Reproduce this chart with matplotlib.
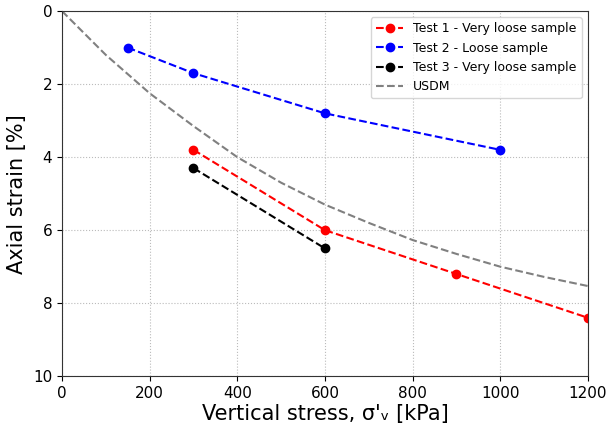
import matplotlib
matplotlib.use("Agg")
import matplotlib.pyplot as plt

# test data
t1_x = [300, 600, 900, 1200]
t1_y = [3.8, 6.0, 7.2, 8.4]
t2_x = [150, 300, 600, 1000]
t2_y = [1.0, 1.7, 2.8, 3.8]
t3_x = [300, 600]
t3_y = [4.3, 6.5]

# USDM curve
usdm_x = [0, 100, 200, 300, 400, 500, 600, 700, 800, 900, 1000, 1100, 1200]
usdm_y = [0, 1.2, 2.25, 3.15, 4.0, 4.7, 5.3, 5.8, 6.27, 6.65, 7.0, 7.28, 7.53]

fig = plt.figure(figsize=(6.08, 4.28), dpi=100)
ax = fig.add_axes([0.102, 0.121, 0.865, 0.853])

ax.plot(t1_x, t1_y, 'r--o', ms=6, lw=1.5, label="Test 1 - Very loose sample")
ax.plot(t2_x, t2_y, 'b--o', ms=6, lw=1.5, label="Test 2 - Loose sample")
ax.plot(t3_x, t3_y, 'k--o', ms=6, lw=1.5, label="Test 3 - Very loose sample")
ax.plot(usdm_x, usdm_y, '--', color='gray', lw=1.5, label="USDM")

ax.set_xlim(0, 1200)
ax.set_ylim(10, 0)
ax.set_xticks(range(0, 1201, 200))
ax.set_yticks(range(0, 11, 2))
ax.tick_params(labelsize=11)
ax.grid(True, ls=':', color='#bbbbbb', lw=0.8)
for s in ax.spines.values():
    s.set_color('#333333')

ax.set_xlabel("Vertical stress, σ'ᵥ [kPa]", fontsize=15, labelpad=2)
ax.set_ylabel("Axial strain [%]", fontsize=15)
ax.legend(loc='upper right', fontsize=9, handlelength=2.2)

fig.savefig("out.png", dpi=100)
